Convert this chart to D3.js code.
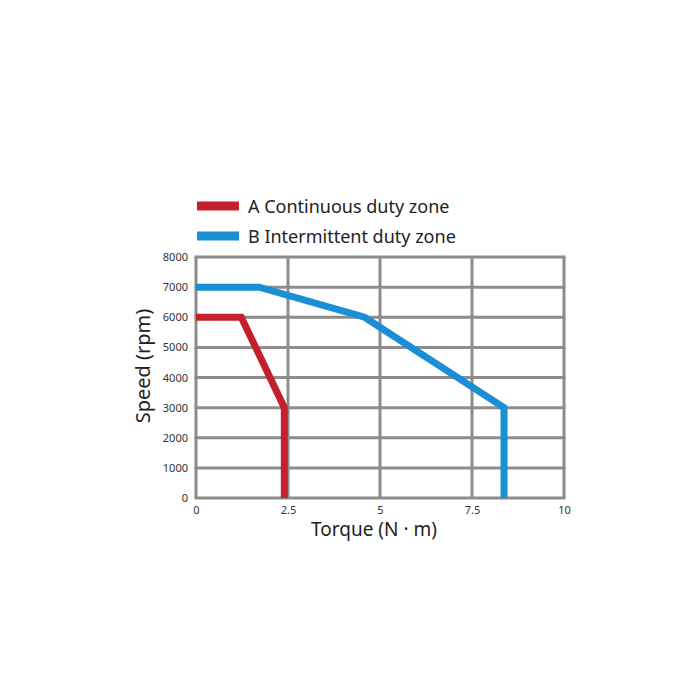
<!DOCTYPE html>
<html lang="en">
<head>
<meta charset="utf-8">
<title>Torque speed curve</title>
<script src="https://cdn.jsdelivr.net/npm/d3@7"></script>
<style>
  body { margin: 0; background: #fff; }
  text { font-family: "Noto Sans", "Noto Sans CJK SC", sans-serif; }
  .tick text { font-size: 11px; fill: #333; }
</style>
</head>
<body>
<script>
// data
var xTicks = [0, 2.5, 5, 7.5, 10];
var xTickLabels = ["0", "2.5", "5", "7.5", "10"];
var yTicks = [0, 1000, 2000, 3000, 4000, 5000, 6000, 7000, 8000];

var seriesNames = ["A Continuous duty zone", "B Intermittent duty zone"];
var seriesColors = ["#c4202b", "#1b8fd6"];

var contTorque = [0, 1.23, 2.4, 2.4];
var contSpeed = [6000, 6000, 3000, 0];
var interTorque = [0, 1.72, 4.58, 8.37, 8.37];
var interSpeed = [7000, 7000, 6000, 3000, 0];

var W = 700, H = 700;
var pLeft = 196, pRight = 564, pTop = 257, pBottom = 498;

var svg = d3.select("body").append("svg")
  .attr("width", W).attr("height", H);

var x = d3.scaleLinear().domain([0, 10]).range([pLeft, pRight]);
var y = d3.scaleLinear().domain([0, 8000]).range([pBottom, pTop]);

// grid
var grid = svg.append("g");
grid.selectAll("line.v").data(xTicks).enter().append("line")
  .attr("class", "v")
  .attr("x1", function(d) { return x(d); }).attr("x2", function(d) { return x(d); })
  .attr("y1", pTop).attr("y2", pBottom)
  .attr("stroke", "#8c8c8c").attr("stroke-width", 3);
grid.selectAll("line.h").data(yTicks).enter().append("line")
  .attr("class", "h")
  .attr("y1", function(d) { return y(d); }).attr("y2", function(d) { return y(d); })
  .attr("x1", pLeft - 1.5).attr("x2", pRight + 1.5)
  .attr("stroke", "#8c8c8c").attr("stroke-width", 3);

// axes (labels only)
var xAxis = d3.axisBottom(x).tickValues(xTicks).tickSize(0).tickPadding(8)
  .tickFormat(function(d, i) { return xTickLabels[i]; });
svg.append("g").attr("transform", "translate(0," + pBottom + ")").call(xAxis)
  .call(function(g) { g.select(".domain").remove(); });

var yAxis = d3.axisLeft(y).tickValues(yTicks).tickSize(0).tickPadding(8)
  .tickFormat(d3.format("d"));
svg.append("g").attr("transform", "translate(" + pLeft + ",0)").call(yAxis)
  .call(function(g) { g.select(".domain").remove(); });

// curves
var line = d3.line()
  .x(function(d) { return x(d[0]); })
  .y(function(d) { return y(d[1]); });

var series = [d3.zip(contTorque, contSpeed), d3.zip(interTorque, interSpeed)];
svg.selectAll("path.curve").data(series).enter().append("path")
  .attr("class", "curve")
  .attr("d", line)
  .attr("fill", "none")
  .attr("stroke", function(d, i) { return seriesColors[i]; })
  .attr("stroke-width", 7)
  .attr("stroke-linejoin", "miter");

// legend
var leg = svg.append("g");
seriesNames.forEach(function(name, i) {
  var ly = 206 + i * 30;
  leg.append("line")
    .attr("x1", 197).attr("x2", 239).attr("y1", ly).attr("y2", ly)
    .attr("stroke", seriesColors[i]).attr("stroke-width", 9);
  leg.append("text")
    .attr("x", 248).attr("y", ly + 6.5)
    .attr("font-size", 18).attr("fill", "#222")
    .text(name);
});

// axis titles
svg.append("text")
  .attr("x", 374).attr("y", 536)
  .attr("text-anchor", "middle").attr("font-size", 19).attr("fill", "#222")
  .text("Torque (N · m)");

svg.append("text")
  .attr("transform", "translate(150,366) rotate(-90)")
  .attr("text-anchor", "middle").attr("font-size", 20).attr("fill", "#222")
  .text("Speed (rpm)");
</script>
</body>
</html>
